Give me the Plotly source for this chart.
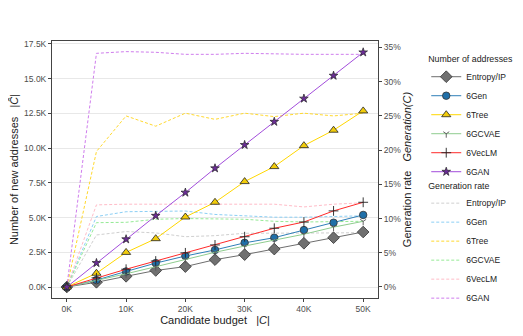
import plotly.graph_objects as go

budget = [0, 5000, 10000, 15000, 20000, 25000, 30000, 35000, 40000, 45000, 50000]
methods = ["Entropy/IP", "6Gen", "6Tree", "6GCVAE", "6VecLM", "6GAN"]

count_entropy = [0, 340, 770, 1190, 1470, 1970, 2330, 2730, 3150, 3550, 3960]
count_6gen = [0, 500, 1120, 1720, 2230, 2670, 3180, 3550, 4100, 4630, 5190]
count_6tree = [0, 990, 2490, 3480, 5040, 6100, 7590, 8670, 10180, 11290, 12680]
count_6gcvae = [0, 460, 950, 1460, 2000, 2500, 2950, 3350, 3800, 4310, 4730]
count_6veclm = [0, 660, 1280, 1870, 2460, 3030, 3620, 4230, 4680, 5480, 6100]
count_6gan = [0, 1730, 3440, 5130, 6800, 8550, 10230, 11900, 13570, 15220, 16900]

rate_entropy = [0, 7.6, 8.1, 7.9, 7.35, 7.5, 7.85, 7.85, 7.8, 7.9, 7.95]
rate_6gen = [0, 10.3, 11.0, 11.1, 11.1, 10.6, 10.4, 10.2, 10.2, 10.3, 10.4]
rate_6tree = [0, 19.8, 25.0, 23.5, 25.4, 24.5, 25.4, 24.9, 25.4, 25.0, 25.4]
rate_6gcvae = [0, 9.4, 9.45, 9.9, 10.0, 10.0, 9.9, 9.6, 9.5, 9.55, 9.6]
rate_6veclm = [0, 12.0, 12.1, 12.1, 12.1, 12.2, 12.2, 12.1, 11.7, 12.1, 12.3]
rate_6gan = [0, 34.15, 34.4, 34.3, 34.0, 34.0, 34.15, 34.05, 34.0, 34.0, 34.0]

x_tickvals = [0, 10000, 20000, 30000, 40000, 50000]
x_ticktext = ["0K", "10K", "20K", "30K", "40K", "50K"]
y_tickvals = [0, 2500, 5000, 7500, 10000, 12500, 15000, 17500]
y_ticktext = ["0.0K", "2.5K", "5.0K", "7.5K", "10.0K", "12.5K", "15.0K", "17.5K"]
r_tickvals = [0, 5, 10, 15, 20, 25, 30, 35]
r_ticktext = ["0%", "5%", "10%", "15%", "20%", "25%", "30%", "35%"]

counts = [count_entropy, count_6gen, count_6tree, count_6gcvae, count_6veclm, count_6gan]
rates = [rate_entropy, rate_6gen, rate_6tree, rate_6gcvae, rate_6veclm, rate_6gan]

line_colors = ["#6e6e6e", "#2f7fb8", "#ffd700", "#8fcc8f", "#ff2a2a", "#a24ddb"]
rate_colors = ["#cfcfcf", "#8ccff5", "#ffd92e", "#95ea95", "#ffbcc8", "#cf7ded"]
marker_styles = [
    dict(symbol="diamond", size=9, color="#707070", line=dict(color="#333333", width=0.8)),
    dict(symbol="circle", size=7.5, color="#1f6fa8", line=dict(color="#333333", width=0.8)),
    dict(symbol="triangle-up", size=8, color="#f2cc0a", line=dict(color="#222222", width=0.8)),
    dict(symbol="y-down", size=5, color="#555555", line=dict(color="#555555", width=0.9)),
    dict(symbol="cross-thin", size=7, color="#222222", line=dict(color="#222222", width=0.9)),
    dict(symbol="star", size=6.5, color="#6b2c96", line=dict(color="#222222", width=0.7)),
]

fig = go.Figure()

for name, r, c in zip(methods, rates, rate_colors):
    fig.add_trace(go.Scatter(
        x=budget, y=r, name=name, mode="lines", yaxis="y",
        line=dict(color=c, width=1, dash="3px,2px"),
        legend="legend2",
    ))

for name, cnt, c, m in zip(methods, counts, line_colors, marker_styles):
    fig.add_trace(go.Scatter(
        x=budget, y=cnt, name=name, mode="lines+markers", yaxis="y2",
        line=dict(color=c, width=1), marker=m,
        legend="legend",
    ))

tick_font = dict(family="Liberation Sans, Arial, sans-serif", size=8.5, color="#4d4d4d")
title_font = dict(family="Liberation Sans, Arial, sans-serif", size=11, color="#222222")
legend_font = dict(family="Liberation Sans, Arial, sans-serif", size=8.5, color="#222222")
legend_title_font = dict(family="Liberation Sans, Arial, sans-serif", size=8.8, color="#222222")

fig.update_layout(
    width=515, height=328,
    margin=dict(l=44, r=145, t=33, b=38, autoexpand=False),
    paper_bgcolor="white", plot_bgcolor="white",
    font=dict(family="Liberation Sans, Arial, sans-serif", color="#222222"),
    xaxis=dict(
        range=[-2500, 52500], tickvals=x_tickvals, ticktext=x_ticktext,
        showgrid=False, zeroline=False, automargin=False,
        showline=True, mirror=True, linecolor="#444444", linewidth=1,
        ticks="outside", ticklen=3, tickcolor="#444444", tickfont=tick_font,
        title=dict(text="Candidate budget   |<i>C</i>|", font=title_font, standoff=3),
    ),
    yaxis=dict(
        side="right", range=[-1.61, 35.95], tickvals=r_tickvals, ticktext=r_ticktext,
        showgrid=False, zeroline=False, automargin=False,
        showline=True, linecolor="#444444", linewidth=1,
        ticks="outside", ticklen=3, tickcolor="#444444", tickfont=tick_font,
        title=dict(text="Generation rate   <i>Generation(C)</i>", font=title_font, standoff=3),
    ),
    yaxis2=dict(
        side="left", overlaying="y", range=[-792, 17715],
        tickvals=y_tickvals, ticktext=y_ticktext,
        showgrid=True, gridcolor="#e8e8e8", gridwidth=1, zeroline=False, automargin=False,
        showline=True, linecolor="#444444", linewidth=1,
        ticks="outside", ticklen=3, tickcolor="#444444", tickfont=tick_font,
        title=dict(text="Number of new addresses   |<i>Ĉ</i>|", font=title_font, standoff=3),
    ),
    legend=dict(
        x=1.148, y=0.962, xanchor="left", yanchor="top",
        title=dict(text="Number of addresses", font=legend_title_font),
        font=legend_font, bgcolor="rgba(0,0,0,0)",
        itemwidth=30, tracegroupgap=0,
    ),
    legend2=dict(
        x=1.148, y=0.47, xanchor="left", yanchor="top",
        title=dict(text="Generation rate", font=legend_title_font),
        font=legend_font, bgcolor="rgba(0,0,0,0)",
        itemwidth=30, tracegroupgap=0,
    ),
)

fig.write_html("out.html")
